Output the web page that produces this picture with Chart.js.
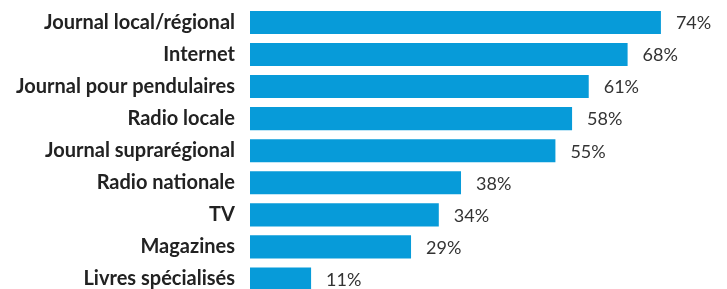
<!DOCTYPE html>
<html><head><meta charset="utf-8">
<script src="https://cdn.jsdelivr.net/npm/chart.js@4/dist/chart.umd.min.js"></script>
<style>html,body{margin:0;padding:0;background:#fff;overflow:hidden}canvas{display:block}</style>
</head><body><canvas id="c" width="727" height="300"></canvas>
<script>
const categories = ["Journal local/régional","Internet","Journal pour pendulaires","Radio locale","Journal suprarégional","Radio nationale","TV","Magazines","Livres spécialisés"];
const values = [74,68,61,58,55,38,34,29,11];
const valueLabels = ["74%","68%","61%","58%","55%","38%","34%","29%","11%"];

const labelPlugin = {
  id:'valLabels',
  afterDatasetsDraw(chart){
    const ctx = chart.ctx;
    const meta = chart.getDatasetMeta(0);
    ctx.save();
    ctx.font = '18px Lato';
    ctx.fillStyle = '#333';
    ctx.textAlign = 'left';
    ctx.textBaseline = 'middle';
    meta.data.forEach((el,i)=>{
      ctx.fillText(valueLabels[i], el.x + 15, el.y + 1);
    });
    ctx.restore();
  }
};

new Chart(document.getElementById('c'), {
  type:'bar',
  data:{labels:categories, datasets:[{data:values, backgroundColor:'#079bd9', borderWidth:0, barPercentage:0.72, categoryPercentage:1}]},
  options:{
    indexAxis:'y', responsive:false, animation:false,
    layout:{padding:{top:6.4, right:5, bottom:0, left:0}},
    plugins:{legend:{display:false}, tooltip:{enabled:false}},
    scales:{
      x:{display:false, min:0, max:85},
      y:{grid:{display:false, drawTicks:true, tickLength:15}, border:{display:false},
         afterFit(scale){ scale.width = 250; },
         ticks:{padding:0, color:'#222', font:{family:'Lato', size:20, weight:'bold', lineHeight:0.5}}}
    }
  },
  plugins:[labelPlugin]
});
</script></body></html>
